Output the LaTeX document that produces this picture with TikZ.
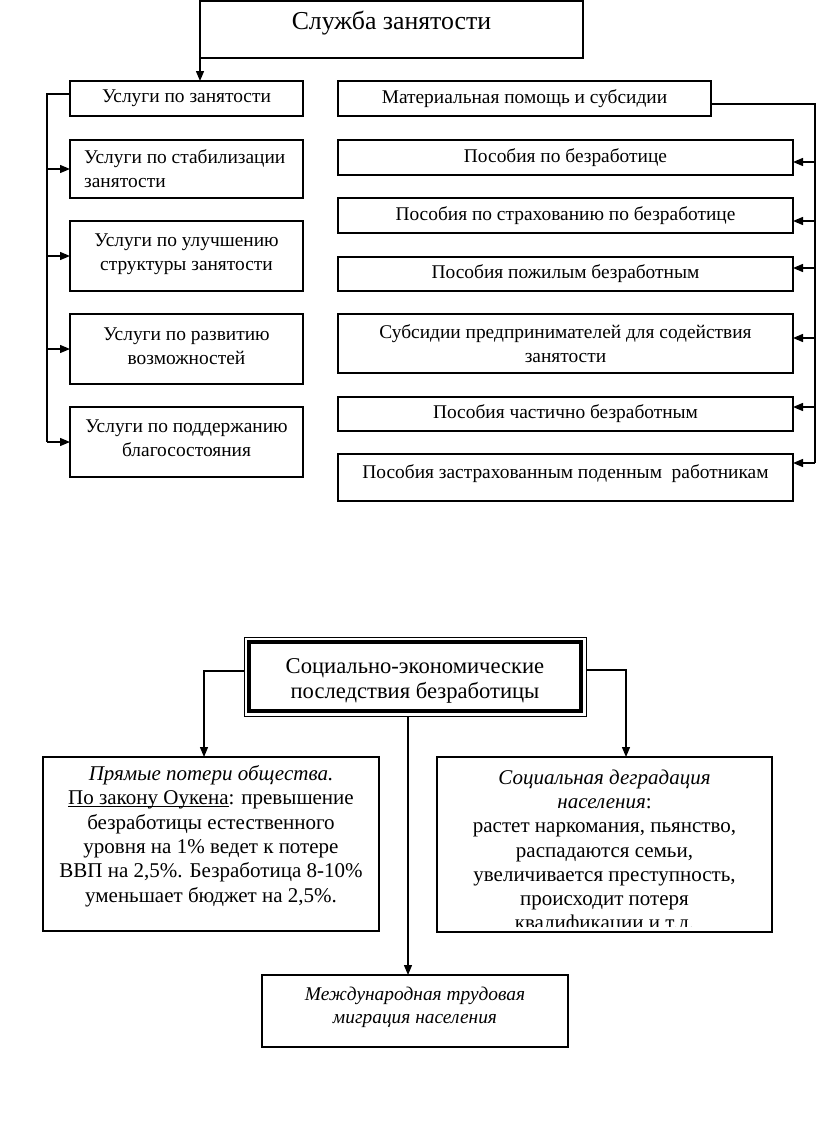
\documentclass[tikz,border=0pt]{standalone}
\usepackage{fontspec}
\setmainfont{Liberation Serif}
\usetikzlibrary{arrows.meta,calc}
\begin{document}
\begin{tikzpicture}[x=1pt,y=-1pt,
  box/.style={draw,line width=1.3pt,inner sep=0pt,outer sep=0pt,anchor=center},
  txt/.style={inner sep=0pt,align=center,font=\fontsize{19.4}{24}\selectfont},
  big/.style={inner sep=0pt,align=center,font=\fontsize{21}{24.3}\selectfont},
  con/.style={line width=1.3pt},
  arr/.style={line width=1.3pt,-{Triangle[length=10pt,width=8pt]}}]
\useasboundingbox (0,0) rectangle (816,1122);
% ---------- top part ----------
\node[box,minimum width=383pt,minimum height=57pt] (sz) at (391.5,29.5) {};
\node[inner sep=0pt,font=\fontsize{25.8}{30}\selectfont] at ([yshift=6pt]sz.center) {Служба занятости};
% left column
\node[box,minimum width=233pt,minimum height=35pt] (u0) at (186.5,98.5) {};
\node[txt] at (u0.center) {Услуги по занятости};
\node[box,minimum width=233pt,minimum height=58pt] (u1) at (186.5,169) {};
\node[txt,align=left,anchor=west] at ([xshift=14pt]u1.west) {Услуги по стабилизации\\занятости};
\node[box,minimum width=233pt,minimum height=70pt] (u2) at (186.5,256) {};
\node[txt] at ([yshift=1.5pt]u2.center) {Услуги по улучшению\\структуры занятости};
\node[box,minimum width=233pt,minimum height=70pt] (u3) at (186.5,349) {};
\node[txt] at ([yshift=3pt]u3.center) {Услуги по развитию\\возможностей};
\node[box,minimum width=233pt,minimum height=70pt] (u4) at (186.5,442) {};
\node[txt] at ([yshift=3.5pt]u4.center) {Услуги по поддержанию\\благосостояния};
% right column
\node[box,minimum width=373pt,minimum height=35pt] (m0) at (524.5,98.5) {};
\node[txt] at (m0.center) {Материальная помощь и субсидии};
\node[box,minimum width=455pt,minimum height=35pt] (r1) at (565.5,157.5) {};
\node[txt] at (r1.center) {Пособия по безработице};
\node[box,minimum width=455pt,minimum height=35pt] (r2) at (565.5,215.5) {};
\node[txt] at (r2.center) {Пособия по страхованию по безработице};
\node[box,minimum width=455pt,minimum height=34pt] (r3) at (565.5,274) {};
\node[txt] at (r3.center) {Пособия пожилым безработным};
\node[box,minimum width=455pt,minimum height=59pt] (r4) at (565.5,343.5) {};
\node[txt] at ([yshift=-0.5pt]r4.center) {Субсидии предпринимателей для содействия\\занятости};
\node[box,minimum width=455pt,minimum height=34pt] (r5) at (565.5,414) {};
\node[txt] at (r5.center) {Пособия частично безработным};
\node[box,minimum width=455pt,minimum height=47pt] (r6) at (565.5,477.5) {};
\node[txt] at ([yshift=4pt]r6.center) {Пособия застрахованным поденным\ \ работникам};
% connectors top
\draw[arr] ([yshift=-6pt]sz.west) -- (sz.west |- u0.north);
\draw[con] ([yshift=4.5pt]u0.west) -- ++(-23,0) coordinate (lb) -- (lb |- u4.west);
\foreach \n in {u1,u2,u3,u4} \draw[arr] (lb |- \n.west) -- (\n.west);
\draw[con] ([yshift=-5.5pt]m0.east) -- (815,104) coordinate (rb) -- (815,463);
\draw[arr] (rb |- 0,162) -- ([yshift=-4.5pt]r1.east);
\draw[arr] (rb |- 0,221) -- ([yshift=-5.5pt]r2.east);
\draw[arr] (rb |- 0,268) -- ([yshift=6pt]r3.east);
\draw[arr] (rb |- 0,338) -- ([yshift=5.5pt]r4.east);
\draw[arr] (rb |- 0,407) -- ([yshift=7pt]r5.east);
\draw[arr] (rb |- 0,463) -- ([yshift=14.5pt]r6.east);
% ---------- bottom part ----------
\node[draw,line width=0.8pt,inner sep=0pt,outer sep=0pt,minimum width=342pt,minimum height=79pt] (se) at (415,676.5) {};
\draw[line width=4pt] ([shift={(5pt,-5pt)}]se.north west) rectangle ([shift={(-5pt,5pt)}]se.south east);
\node[inner sep=0pt,align=center,font=\fontsize{22.6}{25}\selectfont] at ([yshift=-4pt]se.center) {Социально-экономические\\последствия безработицы};
\node[box,minimum width=336pt,minimum height=174pt] (lp) at (211,844) {};
\node[big] at ([yshift=8pt]lp.center) {\textit{Прямые потери общества.}\\\underline{\smash{По закону Оукена}}: превышение\\безработицы естественного\\уровня на 1\% ведет к потере\\ВВП на 2,5\%. Безработица 8-10\%\\уменьшает бюджет на 2,5\%.};
\node[box,minimum width=335pt,minimum height=175pt] (rp) at (604.5,844.5) {};
\begin{scope}
\clip (437,757) rectangle (772,926);
\node[big] at (604.5,852) {\textit{Социальная деградация}\\\textit{населения}:\\растет наркомания, пьянство,\\распадаются семьи,\\увеличивается преступность,\\происходит потеря\\квалификации и т.д.};
\end{scope}
\node[box,minimum width=306pt,minimum height=72pt] (im) at (415,1011) {};
\node[inner sep=0pt,align=center,font=\fontsize{19.4}{23}\selectfont\itshape] at ([yshift=4pt]im.center) {Международная трудовая\\миграция населения};
% connectors bottom
\draw[arr] ([yshift=5.5pt]se.west) -| ([xshift=-7pt]lp.north);
\draw[arr] ([yshift=6.5pt]se.east) -| ([xshift=21.5pt]rp.north);
\draw[arr] ([xshift=-7pt]se.south) -- ([xshift=-7pt]im.north);
\end{tikzpicture}
\end{document}
